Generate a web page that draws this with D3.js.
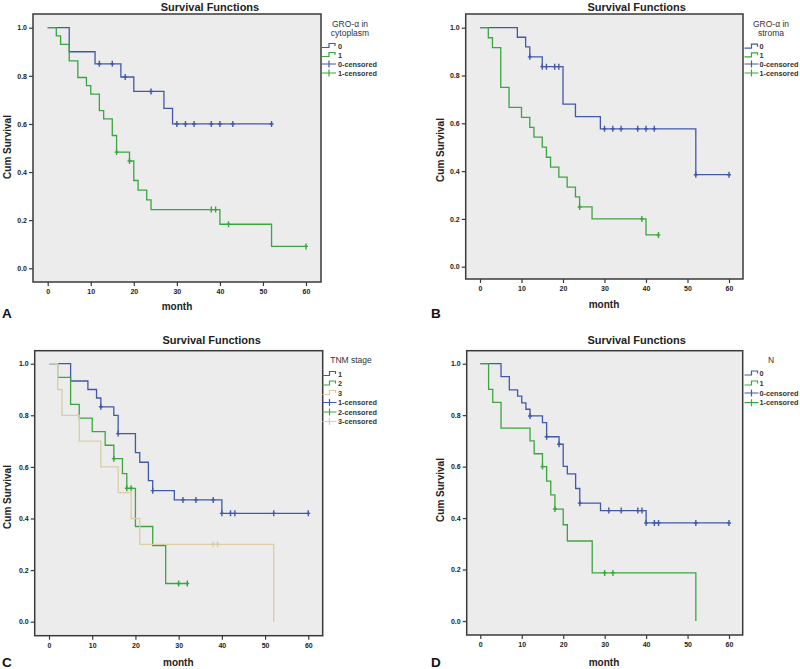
<!DOCTYPE html>
<html><head><meta charset="utf-8">
<script src="https://cdn.jsdelivr.net/npm/d3@7"></script>
<style>
body{margin:0;background:#fff}
svg{display:block}
text{font-family:"Liberation Sans",Arial,sans-serif;fill:#222}
</style>
</head><body>
<svg id="chart" width="800" height="669"></svg>
<script>
// ---------- data ----------
const xTicks = [0, 10, 20, 30, 40, 50, 60];
const yTicks = [0.0, 0.2, 0.4, 0.6, 0.8, 1.0];
const chartTitle = "Survival Functions";
const xLabel = "month";
const yLabel = "Cum Survival";

// Panel A: GRO-α in cytoplasm
const A_legendTitle = ["GRO-α in", "cytoplasm"];
const A_names = ["0", "1"];
const A_t0 = [5, 11, 17, 20, 27, 29];
const A_s0 = [0.900, 0.850, 0.795, 0.735, 0.665, 0.600];
const A_c0 = [12, 15, 18, 24, 30, 32, 34, 38, 40, 43, 52];
const A_t1 = [2, 3, 5, 7, 9, 10, 12, 13, 15, 16, 19, 20, 21, 23, 24, 40, 52];
const A_s1 = [0.966, 0.931, 0.862, 0.793, 0.759, 0.724, 0.655, 0.621, 0.552, 0.483, 0.446, 0.365, 0.325, 0.284, 0.244, 0.183, 0.091];
const A_c1 = [16, 19, 38, 39, 42, 60];

// Panel B: GRO-α in stroma
const B_legendTitle = ["GRO-α in", "stroma"];
const B_names = ["0", "1"];
const B_t0 = [9, 11, 12, 15, 20, 23, 29, 52];
const B_s0 = [0.960, 0.920, 0.878, 0.837, 0.680, 0.628, 0.577, 0.385];
const B_c0 = [12, 15, 16, 18, 19, 30, 32, 34, 38, 40, 42, 52, 60];
const B_t1 = [2, 3, 5, 7, 10, 12, 13, 15, 16, 17, 19, 21, 23, 24, 27, 40];
const B_s1 = [0.958, 0.917, 0.750, 0.667, 0.625, 0.583, 0.542, 0.500, 0.458, 0.417, 0.375, 0.333, 0.292, 0.250, 0.200, 0.133];
const B_c1 = [24, 39, 43];

// Panel C: TNM stage
const C_legendTitle = ["TNM stage"];
const C_names = ["1", "2", "3"];
const C_t1 = [5, 9, 11, 12, 15, 16, 20, 21, 23, 24, 29, 40];
const C_s1 = [0.933, 0.900, 0.867, 0.833, 0.800, 0.729, 0.655, 0.618, 0.547, 0.508, 0.472, 0.420];
const C_c1 = [12, 16, 24, 31, 34, 38, 40, 42, 43, 52, 60];
const C_t2 = [2, 5, 7, 10, 13, 15, 17, 18, 20, 24, 27];
const C_s2 = [0.947, 0.842, 0.789, 0.737, 0.684, 0.632, 0.574, 0.517, 0.369, 0.295, 0.148];
const C_c2 = [15, 18, 19, 30, 32];
const C_t3 = [2, 3, 7, 12, 16, 19, 21, 52];
const C_s3 = [0.9, 0.8, 0.7, 0.6, 0.5, 0.4, 0.3, 0.0];
const C_c3 = [38, 39];

// Panel D: N
const D_legendTitle = ["N"];
const D_names = ["0", "1"];
const D_t0 = [5, 7, 9, 10, 11, 12, 15, 16, 19, 20, 21, 23, 24, 29, 40];
const D_s0 = [0.950, 0.898, 0.874, 0.848, 0.823, 0.797, 0.771, 0.716, 0.687, 0.601, 0.572, 0.515, 0.458, 0.429, 0.381];
const D_c0 = [12, 16, 19, 24, 31, 34, 38, 39, 40, 42, 43, 52, 60];
const D_t1 = [2, 3, 5, 12, 13, 15, 16, 17, 18, 20, 21, 27, 52];
const D_s1 = [0.900, 0.850, 0.750, 0.700, 0.650, 0.600, 0.544, 0.490, 0.435, 0.374, 0.311, 0.187, 0.0];
const D_c1 = [15, 18, 30, 32];

// ---------- styles / layout ----------
const BLUE = "#4259a9", GREEN = "#3ba640", TAN = "#d9cda6";

const panels = [
  { letter: "A", frame: [33, 14, 321, 282], x0: 47.7, x60: 306, y1: 27.7, y0: 268.3,
    titlePos: [210, 6.5], yLabPos: [7, 147], xLabPos: [177, 306], letterPos: [2, 313],
    leg: { cx: 350, sx: 322, tx: 338, titleY: [24, 33], itemY: [46, 55, 64, 73] },
    legendTitle: A_legendTitle, names: A_names,
    series: [ {t: A_t0, s: A_s0, c: A_c0, col: BLUE}, {t: A_t1, s: A_s1, c: A_c1, col: GREEN} ] },
  { letter: "B", frame: [465.7, 14, 743, 279], x0: 480, x60: 729, y1: 27.7, y0: 266.7,
    titlePos: [636.7, 6.5], yLabPos: [440, 150], xLabPos: [604, 304], letterPos: [431, 313],
    leg: { cx: 771, sx: 744.5, tx: 759.5, titleY: [24, 33], itemY: [46.7, 55.3, 64, 73] },
    legendTitle: B_legendTitle, names: B_names,
    series: [ {t: B_t0, s: B_s0, c: B_c0, col: BLUE}, {t: B_t1, s: B_s1, c: B_c1, col: GREEN} ] },
  { letter: "C", frame: [34.7, 350.7, 322.7, 635.7], x0: 49, x60: 308.3, y1: 363.7, y0: 621.7,
    titlePos: [211.7, 340], yLabPos: [7, 497], xLabPos: [178.3, 662], letterPos: [2, 662],
    leg: { cx: 351, sx: 322.5, tx: 338, titleY: [359.5], itemY: [374, 383.5, 393, 402.5, 412, 421.5] },
    legendTitle: C_legendTitle, names: C_names,
    series: [ {t: C_t1, s: C_s1, c: C_c1, col: BLUE}, {t: C_t2, s: C_s2, c: C_c2, col: GREEN}, {t: C_t3, s: C_s3, c: C_c3, col: TAN} ] },
  { letter: "D", frame: [466.7, 350.7, 742.7, 635], x0: 480.3, x60: 729, y1: 363.7, y0: 621,
    titlePos: [636.7, 340], yLabPos: [440, 490], xLabPos: [604, 662], letterPos: [431, 662],
    leg: { cx: 771, sx: 744.5, tx: 759.5, titleY: [360], itemY: [373.5, 383.5, 393, 402.7] },
    legendTitle: D_legendTitle, names: D_names,
    series: [ {t: D_t0, s: D_s0, c: D_c0, col: BLUE}, {t: D_t1, s: D_s1, c: D_c1, col: GREEN} ] }
];

const svg = d3.select("#chart");

function stepValue(ser, tm) {
  let v = 1;
  ser.t.forEach((t, i) => { if (t <= tm) v = ser.s[i]; });
  return v;
}

panels.forEach(p => {
  const [fx0, fy0, fx1, fy1] = p.frame;
  const x = d3.scaleLinear().domain([0, 60]).range([p.x0, p.x60]);
  const y = d3.scaleLinear().domain([0, 1]).range([p.y0, p.y1]);
  const g = svg.append("g");

  g.append("rect").attr("x", fx0).attr("y", fy0).attr("width", fx1 - fx0).attr("height", fy1 - fy0)
    .attr("fill", "#ececec").attr("stroke", "#3a3a3a").attr("stroke-width", 1.5);

  const ax = g.append("g").attr("transform", `translate(0,${fy1})`)
    .call(d3.axisBottom(x).tickValues(xTicks).tickSize(4).tickPadding(3).tickFormat(d3.format("d")));
  const ay = g.append("g").attr("transform", `translate(${fx0},0)`)
    .call(d3.axisLeft(y).tickValues(yTicks).tickSize(4).tickPadding(2).tickFormat(d3.format(".1f")));
  [ax, ay].forEach(a => {
    a.select(".domain").remove();
    a.selectAll(".tick line").attr("stroke", "#3a3a3a").attr("stroke-width", 1.2);
    a.selectAll(".tick text").attr("fill", "#333").style("font-size", "7px").style("font-weight", "bold")
      .style("font-family", '"Liberation Sans",Arial,sans-serif');
  });

  const line = d3.line().x(d => x(d[0])).y(d => y(d[1])).curve(d3.curveStepAfter);
  p.series.forEach(ser => {
    const end = Math.max(d3.max(ser.t), d3.max(ser.c));
    const pts = [[0, 1]];
    ser.t.forEach((t, i) => pts.push([t, ser.s[i]]));
    pts.push([end, ser.s[ser.s.length - 1]]);
    g.append("path").attr("d", line(pts)).attr("fill", "none")
      .attr("stroke", ser.col).attr("stroke-width", 1.3);
    g.selectAll(null).data(ser.c).enter().append("path")
      .attr("d", d => {
        const cx = x(d), cy = y(stepValue(ser, d));
        return `M${cx},${cy - 3}V${cy + 3}M${cx - 2},${cy}H${cx + 2}`;
      })
      .attr("stroke", ser.col).attr("stroke-width", 1.4).attr("fill", "none");
  });

  g.append("text").attr("x", p.titlePos[0]).attr("y", p.titlePos[1]).attr("text-anchor", "middle")
    .attr("dominant-baseline", "central").style("font-size", "11px").style("font-weight", "bold").text(chartTitle);
  g.append("text").attr("x", p.xLabPos[0]).attr("y", p.xLabPos[1]).attr("text-anchor", "middle")
    .attr("dominant-baseline", "central").style("font-size", "10px").style("font-weight", "bold").text(xLabel);
  g.append("text").attr("transform", `translate(${p.yLabPos[0]},${p.yLabPos[1]}) rotate(-90)`).attr("text-anchor", "middle")
    .attr("dominant-baseline", "central").style("font-size", "10px").style("font-weight", "bold").text(yLabel);
  g.append("text").attr("x", p.letterPos[0]).attr("y", p.letterPos[1])
    .attr("dominant-baseline", "central").style("font-size", "13.5px").style("font-weight", "bold")
    .style("fill", "#111").text(p.letter);

  p.legendTitle.forEach((tt, i) => {
    g.append("text").attr("x", p.leg.cx).attr("y", p.leg.titleY[i]).attr("text-anchor", "middle")
      .attr("dominant-baseline", "central").style("font-size", "8.5px").style("fill", "#333").text(tt);
  });
  const items = [];
  p.series.forEach((ser, i) => items.push({ label: p.names[i], col: ser.col, kind: "step" }));
  p.series.forEach((ser, i) => items.push({ label: p.names[i] + "-censored", col: ser.col, kind: "cens" }));
  items.forEach((it, i) => {
    const yy = p.leg.itemY[i], sx = p.leg.sx;
    if (it.kind === "step") {
      g.append("path").attr("d", `M${sx},${yy + 1.5}H${sx + 7}V${yy - 2.5}H${sx + 13}V${yy}`)
        .attr("fill", "none").attr("stroke", it.col).attr("stroke-width", 1.2);
    } else {
      g.append("path").attr("d", `M${sx},${yy}H${sx + 14}M${sx + 7},${yy - 3.5}V${yy + 3.5}`)
        .attr("fill", "none").attr("stroke", it.col).attr("stroke-width", 1.2);
    }
    g.append("text").attr("x", p.leg.tx).attr("y", yy).attr("dominant-baseline", "central")
      .style("font-size", "7.3px").style("font-weight", "bold").style("fill", "#333").text(it.label);
  });
});
</script>
</body></html>
